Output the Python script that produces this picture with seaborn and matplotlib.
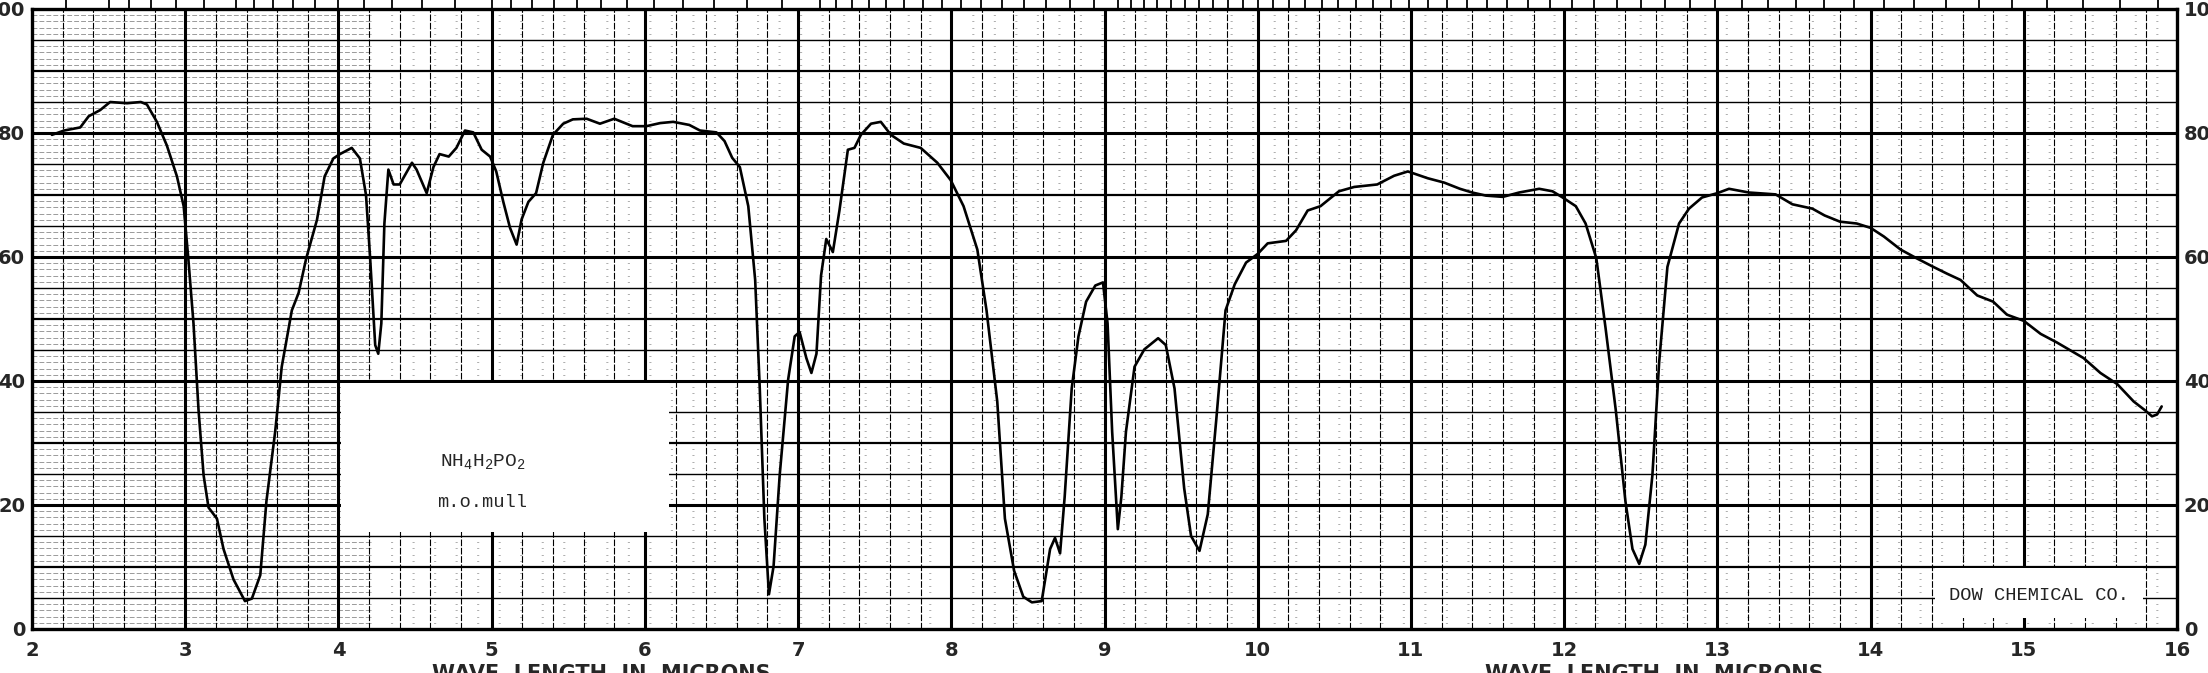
import numpy as np
import pandas as pd
import matplotlib
matplotlib.use("Agg")
import matplotlib.pyplot as plt
import seaborn as sns

# ---------------- data ----------------
wavelength = [2.13, 2.21, 2.315, 2.37, 2.445, 2.51, 2.62, 2.71, 2.75, 2.815, 2.88, 2.946, 2.99, 3.02,
              3.054, 3.087, 3.12, 3.152, 3.207, 3.25, 3.315, 3.39, 3.435, 3.49, 3.53, 3.587, 3.63,
              3.696, 3.74, 3.79, 3.86, 3.91, 3.967, 4.01, 4.087, 4.14, 4.18, 4.207, 4.24, 4.26, 4.28,
              4.30, 4.326, 4.36, 4.40, 4.48, 4.51, 4.576, 4.62, 4.66, 4.72, 4.77, 4.826, 4.88, 4.935,
              4.99, 5.03, 5.076, 5.12, 5.163, 5.196, 5.24, 5.29, 5.337, 5.40, 5.467, 5.53, 5.62, 5.707,
              5.80, 5.92, 6.01, 6.10, 6.185, 6.29, 6.36, 6.467, 6.52, 6.57, 6.62, 6.675, 6.72, 6.75,
              6.78, 6.81, 6.84, 6.88, 6.935, 6.978, 7.01, 7.054, 7.087, 7.12, 7.15, 7.184, 7.227, 7.27,
              7.325, 7.368, 7.41, 7.476, 7.54, 7.606, 7.69, 7.80, 7.909, 7.996, 8.08, 8.17, 8.23, 8.30,
              8.35, 8.41, 8.47, 8.526, 8.59, 8.645, 8.677, 8.71, 8.74, 8.786, 8.83, 8.88, 8.94, 8.99,
              9.02, 9.05, 9.087, 9.11, 9.14, 9.196, 9.26, 9.35, 9.40, 9.457, 9.52, 9.565, 9.62, 9.674,
              9.73, 9.79, 9.85, 9.924, 10.0, 10.065, 10.185, 10.25, 10.326, 10.41, 10.53, 10.63, 10.78,
              10.89, 10.98, 11.11, 11.217, 11.32, 11.40, 11.49, 11.60, 11.706, 11.837, 11.924, 11.99,
              12.076, 12.14, 12.21, 12.27, 12.337, 12.40, 12.446, 12.49, 12.53, 12.576, 12.62, 12.674,
              12.75, 12.815, 12.90, 13.0, 13.076, 13.206, 13.38, 13.49, 13.62, 13.70, 13.80, 13.91,
              14.0, 14.087, 14.196, 14.30, 14.41, 14.50, 14.587, 14.696, 14.80, 14.89, 15.0, 15.11,
              15.217, 15.39, 15.50, 15.61, 15.717, 15.79, 15.837, 15.87, 15.90]
transmittance = [79.7, 80.4, 80.9, 82.7, 83.7, 85.0, 84.8, 85.0, 84.6, 81.8, 78.0, 73.0, 68.2, 59.8,
                 49.3, 35.3, 24.8, 19.6, 17.8, 12.9, 8.0, 4.5, 4.9, 8.7, 20.6, 31.8, 42.3,
                 51.4, 54.2, 59.8, 66.0, 73.0, 75.9, 76.6, 77.6, 75.9, 70.0, 59.8, 45.8, 44.4, 49.3,
                 65.4, 74.1, 71.7, 71.7, 75.2, 74.1, 70.3, 74.5, 76.6, 76.2, 77.6, 80.4, 80.1, 77.3,
                 76.2, 73.8, 68.9, 64.7, 62.0, 66.1, 68.9, 70.3, 75.2, 79.7, 81.5, 82.2, 82.3, 81.5,
                 82.3, 81.1, 81.1, 81.6, 81.8, 81.3, 80.4, 80.1, 78.7, 76.0, 74.5, 68.2, 56.3, 38.8,
                 17.8, 5.6, 10.1, 24.8, 40.2, 47.2, 47.9, 43.7, 41.3, 44.4, 57.0, 62.9, 60.8, 67.5,
                 77.3, 77.6, 79.7, 81.5, 81.8, 79.7, 78.3, 77.6, 75.2, 72.4, 68.2, 61.2, 51.4, 36.7,
                 17.8, 9.4, 5.2, 4.3, 4.5, 12.9, 14.7, 12.2, 21.3, 38.8, 47.2, 52.8, 55.4, 55.9,
                 49.3, 31.8, 16.1, 21.3, 31.8, 42.3, 45.1, 46.9, 45.8, 38.8, 22.7, 15.0, 12.6, 18.5,
                 33.9, 51.4, 55.6, 59.1, 60.5, 62.2, 62.6, 64.3, 67.5, 68.2, 70.6, 71.3, 71.7,
                 73.1, 73.8, 72.7, 72.0, 71.0, 70.4, 69.9, 69.7, 70.4, 71.0, 70.6, 69.6,
                 68.2, 65.4, 59.8, 48.6, 35.3, 20.6, 12.9, 10.5, 13.6, 24.8, 43.0, 58.4,
                 65.4, 67.8, 69.6, 70.3, 71.0, 70.4, 70.1, 68.5, 67.8, 66.7, 65.7, 65.4,
                 64.7, 63.3, 61.2, 59.8, 58.4, 57.3, 56.3, 53.8, 52.8, 50.7, 49.7, 47.6,
                 46.2, 43.7, 41.3, 39.5, 36.7, 35.3, 34.3, 34.6, 35.9]

x_ticks = list(range(2, 17))
x_tick_labels = [str(v) for v in x_ticks]
y_ticks = [0, 20, 40, 60, 80, 100]
y_tick_labels = [str(v) for v in y_ticks]
wavenumber_ticks = ([4500, 4000, 3800, 3600, 3400, 3200, 3000, 2900, 2800, 2700, 2600, 2500, 2400,
                     2300, 2200, 2100, 2000] + list(range(1950, 1399, -50)) + list(range(1380, 1099, -20))
                    + list(range(1090, 629, -10)))
sample_name = r"$\mathrm{NH_4H_2PO_2}$"
sample_prep = "m.o.mull"
credit = "DOW CHEMICAL CO."
x_label = "WAVE  LENGTH  IN  MICRONS"

df = pd.DataFrame({"wavelength": wavelength, "transmittance": transmittance})

# ---------------- style ----------------
sns.set_style("white")
plt.rcParams["font.family"] = ["DejaVu Sans"]
plt.rcParams["mathtext.fontset"] = "custom"
plt.rcParams["mathtext.rm"] = "Liberation Mono"
plt.rcParams["mathtext.it"] = "Liberation Mono"

W, H = 2208, 673
fig = plt.figure(figsize=(W / 100, H / 100), dpi=100)
ax = fig.add_axes([32 / W, 44 / H, (2177 - 32) / W, (664 - 44) / H])
ax.set_xlim(2, 16)
ax.set_ylim(0, 100)

# chart paper grid
for yv in range(1, 100):
    if yv % 5 == 0:
        continue
    ax.hlines(yv, 2, 4.2, colors="black", linewidth=0.5, linestyles=(0, (7, 3)), alpha=0.55, zorder=1)
    ax.hlines(yv, 4.2, 16, colors="black", linewidth=0.5, linestyles=(0, (3, 28)), alpha=0.45, zorder=1)
for yv in range(5, 100, 5):
    if yv % 20 == 0:
        lw = 2.2
    elif yv % 10 == 0:
        lw = 1.6
    else:
        lw = 1.0
    ax.axhline(yv, color="black", linewidth=lw, zorder=2)
for xv in np.arange(2.2, 16, 0.2):
    if abs(xv - round(xv)) < 1e-6:
        ax.axvline(xv, color="black", linewidth=2.2, zorder=2)
    else:
        ax.axvline(xv, color="black", linewidth=0.8, linestyle=(0, (6, 1.5)), zorder=2)

# label boxes
ax.add_patch(plt.Rectangle((4.02, 15.7), 2.14, 24.0, facecolor="white", edgecolor="none", zorder=3))
ax.add_patch(plt.Rectangle((14.42, 1.8), 1.36, 8.0, facecolor="white", edgecolor="none", zorder=3))

# spectrum
sns.lineplot(data=df, x="wavelength", y="transmittance", ax=ax, color="black",
             linewidth=1.9, sort=False, estimator=None, zorder=5,
             solid_joinstyle="round", solid_capstyle="round")

mono = ["Liberation Mono", "DejaVu Sans Mono"]
ax.text(4.94, 27.0, sample_name, fontsize=14, ha="center", va="center", zorder=6, family=mono)
ax.text(4.94, 20.4, sample_prep, fontsize=13.5, ha="center", va="center", zorder=6, family=mono)
ax.text(15.1, 5.4, credit, fontsize=13.5, ha="center", va="center", zorder=6, color="#222222",
        family=mono)

# axes ticks and labels
ax.set_xticks(x_ticks)
ax.set_xticklabels(x_tick_labels)
ax.set_yticks(y_ticks)
ax.set_yticklabels(y_tick_labels)
ax.tick_params(axis="x", length=0, pad=9, labelsize=14)
ax.tick_params(axis="y", length=0, pad=5, labelsize=14, left=True, right=True,
               labelleft=True, labelright=True)
for lab in ax.get_xticklabels() + ax.get_yticklabels():
    lab.set_fontweight("bold")
for t in ax.yaxis.get_major_ticks():
    t.label2.set_fontweight("bold")
    t.label2.set_fontsize(14)
ax.set_xlabel("")
ax.set_ylabel("")
for sp in ax.spines.values():
    sp.set_visible(True)
    sp.set_color("black")
    sp.set_linewidth(2.4)


def inv(x):
    x = np.asarray(x, dtype=float)
    with np.errstate(divide="ignore", invalid="ignore"):
        return 1e4 / x


sec = ax.secondary_xaxis("top", functions=(inv, inv))
sec.set_xticks(wavenumber_ticks)
sec.tick_params(axis="x", direction="out", length=7, width=1.3, labeltop=False, color="black")
sec.spines["top"].set_visible(False)

fig.text(601 / W, 1 - 664 / H, x_label, fontsize=15, fontweight="bold", ha="center", va="top")
fig.text(1654 / W, 1 - 664 / H, x_label, fontsize=15, fontweight="bold", ha="center", va="top")

fig.savefig("out.png", dpi=100, facecolor="white")
